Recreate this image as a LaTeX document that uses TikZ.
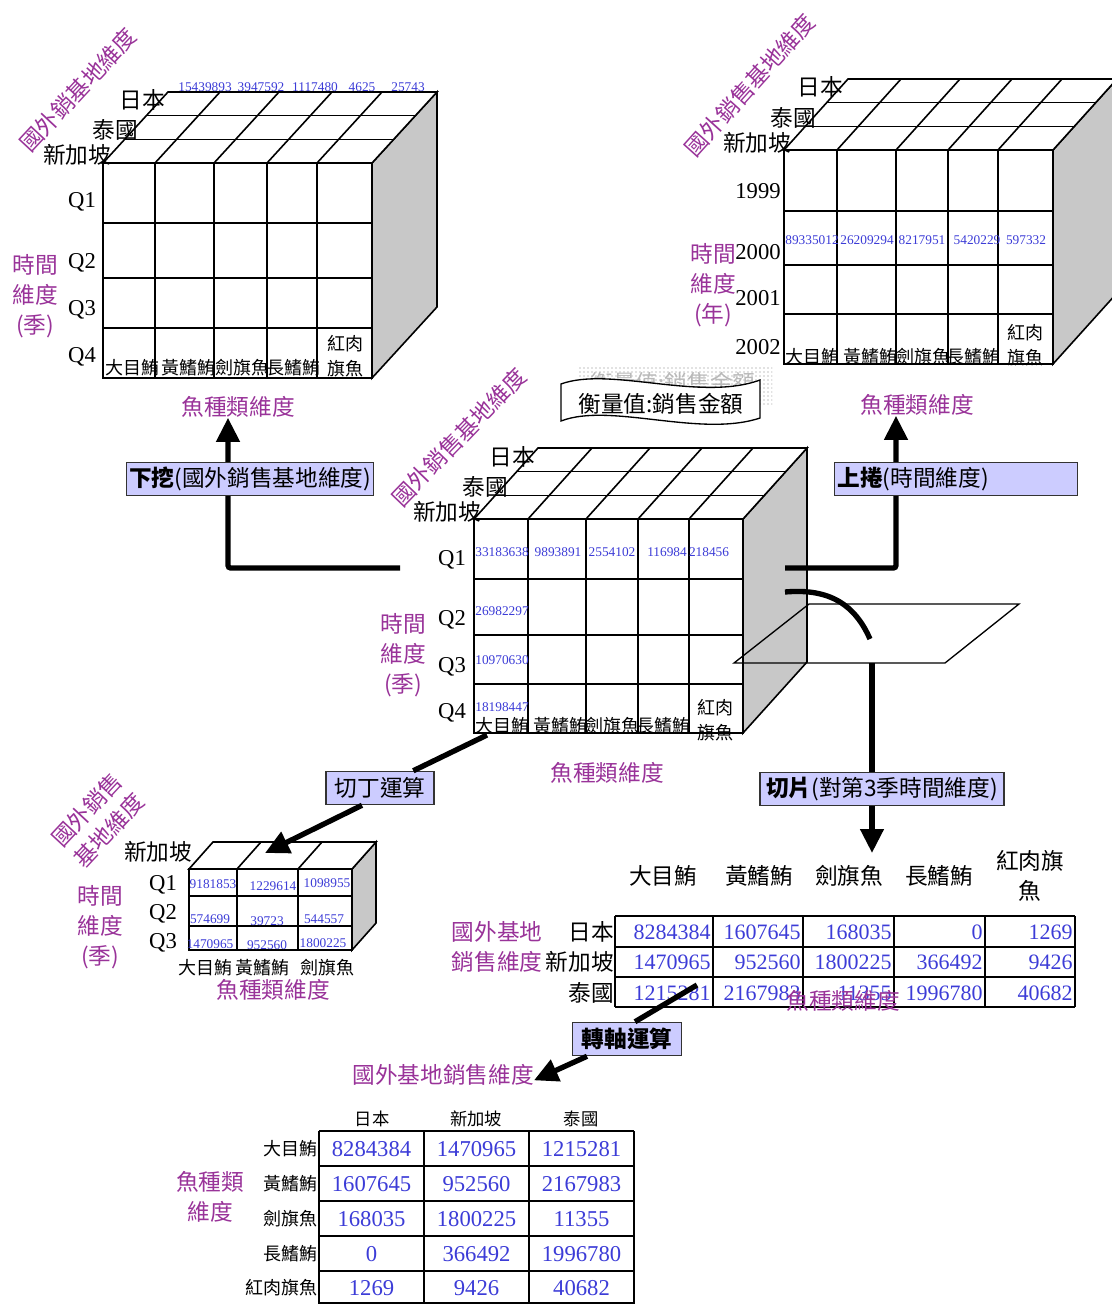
\documentclass[tikz,border=0pt]{standalone}
\usepackage{fontspec}
\setmainfont{Liberation Serif}
\newfontfamily\cjk{Noto Sans CJK TC}
\usepackage{tikz}
\usetikzlibrary{arrows.meta,patterns}

\definecolor{dimpurple}{RGB}{153,51,153}
\definecolor{numblue}{RGB}{60,60,215}
\definecolor{opfill}{RGB}{204,204,255}
\definecolor{sidegray}{RGB}{200,200,200}

% cube: front top left, front bottom right, depth, column lines, row lines, depth lines
\newcommand{\fishcube}[9]{%
  \filldraw[cubeline, fill=sidegray] (#3,#2) -- ++(#5,#6) -- ++(0,#4-#2) -- (#3,#4) -- cycle;
  \filldraw[cubeline, fill=white] (#1,#2) -- ++(#5,#6) -- ++(#3-#1,0) -- (#3,#2) -- cycle;
  \foreach \s in {#9}
    \draw[cubeline] ({#1+\s*(#5)},{#2+\s*(#6)}) -- ++(#3-#1,0);
  \foreach \x in {#7}
    \draw[cubeline] (\x,#2) -- ++(#5,#6);
  \filldraw[cubeline, fill=white] (#1,#2) rectangle (#3,#4);
  \foreach \x in {#7}
    \draw[cubeline] (\x,#2) -- (\x,#4);
  \foreach \y in {#8}
    \draw[cubeline] (#1,\y) -- (#3,\y);
}

\tikzset{
  cubeline/.style={line width=1.2pt},
  dimlabel/.style={text=dimpurple, font=\cjk\fontsize{17}{22.5}\selectfont, align=center, inner sep=0pt},
  member/.style={font=\cjk\fontsize{17}{22.5}\selectfont, align=center, inner sep=0pt},
  fishname/.style={font=\cjk\fontsize{13.5}{18.5}\selectfont, align=center, inner sep=0pt},
  pvhead/.style={font=\cjk\fontsize{13}{16}\selectfont, inner sep=0pt},
  qlabel/.style={font=\fontsize{17}{20}\selectfont, inner sep=0pt},
  cellnum/.style={text=numblue, font=\fontsize{10}{12}\selectfont, inner sep=0pt},
  slnum/.style={text=numblue, font=\fontsize{16.5}{18}\selectfont, inner sep=0pt},
  pvnum/.style={text=numblue, font=\fontsize{17}{20}\selectfont, inner sep=0pt},
  opbox/.style={draw=black!80, fill=opfill, line width=0.9pt, font=\cjk\fontsize{17}{20}\selectfont,
    inner sep=2pt, minimum height=25pt},
  opline/.style={line width=4pt},
  oparrow/.style={line width=4pt, -{Triangle[length=18pt,width=17pt]}},
  tabline/.style={line width=1.8pt},
}

\begin{document}
\begin{tikzpicture}[x=0.75pt, y=-0.75pt]
  \useasboundingbox (0,0) rectangle (1112,1304);
  \clip (0,0) rectangle (1112,1304);

  % Drill-down result (top left)
  \fishcube{103}{163}{372}{378}{65}{-71}{155,214,267,317}{223,278,328}{1/3,2/3}
  \node[dimlabel, rotate=47] (tl-base) at (78,90) {國外銷基地維度};
  \node[member] (tl-jp) at (142,100) {日本};
  \node[member] (tl-th) at (115,130) {泰國};
  \node[member] (tl-sg) at (77,155) {新加坡};
  \foreach \q/\y [count=\i] in {Q1/202,Q2/263,Q3/310,Q4/357}
    \node[qlabel] (tl-q\i) at (82,\y) {\q};
  \node[dimlabel] (tl-time) at (35,296) {時間\\維度\\(季)};
  \foreach \v/\x [count=\i] in {15439893/205,3947592/261,1117480/315,4625/362,25743/408}
    \node[cellnum] (tl-n\i) at (\x,87) {\v};
  \foreach \t/\x [count=\i] in {大目鮪/132,黃鰭鮪/188,劍旗魚/242,長鰭鮪/293}
    \node[fishname] (tl-f\i) at (\x,368) {\t};
  \node[fishname] (tl-f5) at (345,356) {紅肉\\旗魚};
  \node[dimlabel] (tl-fishdim) at (238,407) {魚種類維度};

  % Roll-up result (top right)
  \fishcube{784}{150}{1053}{364}{64}{-71}{837,896,948,998}{211,265,314}{1/3,2/3}
  \node[dimlabel, rotate=48] (tr-base) at (750,85) {國外銷售基地維度};
  \node[member] (tr-jp) at (820,87) {日本};
  \node[member] (tr-th) at (793,118) {泰國};
  \node[member] (tr-sg) at (757,143) {新加坡};
  \foreach \q/\y [count=\i] in {1999/191,2000/252,2001/298,2002/347}
    \node[qlabel] (tr-y\i) at (758,\y) {\q};
  \node[dimlabel] (tr-time) at (713,285) {時間\\維度\\(年)};
  \foreach \v/\x [count=\i] in {89335012/812,26209294/867,8217951/922,5420229/977,597332/1026}
    \node[cellnum] (tr-n\i) at (\x,240) {\v};
  \foreach \t/\x [count=\i] in {大目鮪/812,黃鰭鮪/870,劍旗魚/923,長鰭鮪/973}
    \node[fishname] (tr-f\i) at (\x,357) {\t};
  \node[fishname] (tr-f5) at (1025,345) {紅肉\\旗魚};
  \node[dimlabel] (tr-fishdim) at (917,405) {魚種類維度};

  % Measure banner
  \fill[pattern=dots, pattern color=gray] (577,366) rectangle (772,404);
  \node[member, text=gray!55] (measure-ghost) at (673,383) {衡量值:銷售金額};
  \draw[fill=white, line width=1pt] (561,384) .. controls (610,366) and (700,402) .. (760,380)
    -- (760,418) .. controls (700,438) and (610,402) .. (561,421) -- cycle;
  \node[member] (measure) at (661,404) {衡量值:銷售金額};

  % Source cube (centre)
  \fishcube{474}{519}{743}{733}{64}{-71}{528,586,638,689}{579,635,684}{1/3,2/3}
  \node[dimlabel, rotate=46] (c-base) at (459,437) {國外銷售基地維度};
  \node[member] (c-jp) at (512,457) {日本};
  \node[member] (c-th) at (485,487) {泰國};
  \node[member] (c-sg) at (447,512) {新加坡};
  \foreach \q/\y [count=\i] in {Q1/560,Q2/620,Q3/667,Q4/713}
    \node[qlabel] (c-q\i) at (452,\y) {\q};
  \node[dimlabel] (c-time) at (403,655) {時間\\維度\\(季)};
  \foreach \v/\x [count=\i] in {33183638/502,9893891/558,2554102/612,116984/667,218456/709}
    \node[cellnum] (c-n\i) at (\x,552) {\v};
  \foreach \v/\y [count=\i] in {26982297/611,10970630/660,18198447/707}
    \node[cellnum] (c-m\i) at (502,\y) {\v};
  \foreach \t/\x [count=\i] in {大目鮪/502,黃鰭鮪/560,劍旗魚/612,長鰭鮪/663}
    \node[fishname] (c-f\i) at (\x,726) {\t};
  \node[fishname] (c-f5) at (715,720) {紅肉\\旗魚};
  \node[dimlabel] (c-fishdim) at (607,773) {魚種類維度};

  % Slice plane
  \draw[line width=1pt] (734,663) -- (809,604) -- (1019,604) -- (945,663) -- cycle;

  % Drill-down
  \coordinate (drill-from) at (400,568);
  \draw[oparrow, rounded corners=2pt] (drill-from) -| ([xshift=-7.5pt]tl-fishdim.south);
  \node[opbox, minimum width=184pt] (drill) at (250,479) {\textbf{下挖}(國外銷售基地維度)};

  % Roll-up
  \coordinate (roll-from) at (785,568);
  \draw[oparrow, rounded corners=2pt] (roll-from) -| ([xshift=-15.75pt]tr-fishdim.south);
  \node[opbox, text width=178pt, align=left] (roll) at (956,479) {\textbf{上捲}(時間維度)};

  % Slice
  \coordinate (slice-from) at (785,592);
  \coordinate (slice-hit) at (870,639);
  \coordinate (slice-out) at (872,663);
  \coordinate (slice-to) at (872,853);
  \draw[opline] (slice-from) .. controls (830,588) and (855,605) .. (slice-hit);
  \draw[oparrow] (slice-out) -- (slice-to);
  \node[opbox, minimum width=183pt] (slice) at (882,789) {\textbf{切片}(對第3季時間維度)};

  % Dice result (bottom left)
  \fishcube{189}{869}{352}{950}{24}{-27}{237,298}{896,926}{0}
  \node[dimlabel, rotate=47] (d-base) at (98,820) {國外銷售\\基地維度};
  \node[member] (d-sg) at (158,852) {新加坡};
  \foreach \q/\y [count=\i] in {Q1/885,Q2/914,Q3/943}
    \node[qlabel] (d-q\i) at (163,\y) {\q};
  \node[dimlabel] (d-time) at (100,927) {時間\\維度\\(季)};
  \foreach \v/\x/\y [count=\i] in {9181853/213/884,1229614/273/886,1098955/327/883,
      574699/210/919,39723/267/921,544557/324/919,
      1470965/210/944,952560/267/945,1800225/323/943}
    \node[cellnum] (d-n\i) at (\x,\y) {\v};
  \foreach \t/\x [count=\i] in {大目鮪/205,黃鰭鮪/262,劍旗魚/327}
    \node[fishname] (d-f\i) at (\x,968) {\t};
  \node[dimlabel] (d-fishdim) at (273,990) {魚種類維度};

  % Dice
  \node[opbox, minimum width=81pt] (dice) at (380,788) {切丁運算};
  \coordinate (dice-from) at (487,735);
  \coordinate (dice-to) at (265,853);
  \draw[opline] (dice-from) -- ([xshift=25pt]dice.north);
  \draw[oparrow] ([xshift=-13.5pt]dice.south) -- (dice-to);

  % Slice result table
  \foreach \t/\x [count=\i] in {大目鮪/663,黃鰭鮪/759,劍旗魚/849,長鰭鮪/939}
    \node[member] (sl-h\i) at (\x,876) {\t};
  \node[member] (sl-h5) at (1030,876) {紅肉旗\\魚};
  \node[dimlabel] (sl-base) at (497,947) {國外基地\\銷售維度};
  \foreach \x in {615,713,803,894,985,1075}
    \draw[tabline] (\x,916) -- (\x,1007);
  \foreach \y in {916,947,977,1007}
    \draw[tabline] (615,\y) -- (1075,\y);
  \foreach \y/\r/\c/\vals in {932/1/日本/{8284384,1607645,168035,0,1269},
      962/2/新加坡/{1470965,952560,1800225,366492,9426},
      993/3/泰國/{1215281,2167983,11355,1996780,40682}} {
    \node[member, anchor=east] (sl-r\r) at (614,\y) {\c};
    \foreach \v [count=\i] in \vals {
      \pgfmathsetmacro\xr{{711,801,892,983,1073}[\i-1]}
      \node[slnum, anchor=east] (sl-\r-\i) at (\xr,\y) {\v};
    }
  }

  % Pivot result table
  \node[dimlabel] (pv-base) at (443,1075) {國外基地銷售維度};
  \node[dimlabel] (pv-fishdim) at (210,1197) {魚種類\\維度};
  \foreach \t/\x [count=\i] in {日本/372,新加坡/476,泰國/581}
    \node[pvhead] (pv-h\i) at (\x,1119) {\t};
  \foreach \x in {319,424,529,634}
    \draw[tabline] (\x,1131) -- (\x,1304);
  \foreach \y in {1131,1166,1201,1236,1271,1303}
    \draw[tabline] (319,\y) -- (634,\y);
  \foreach \y/\r/\f/\vals in {1149/1/大目鮪/{8284384,1470965,1215281},
      1184/2/黃鰭鮪/{1607645,952560,2167983},
      1219/3/劍旗魚/{168035,1800225,11355},
      1254/4/長鰭鮪/{0,366492,1996780},
      1288/5/紅肉旗魚/{1269,9426,40682}} {
    \node[fishname, anchor=east] (pv-r\r) at (318,\y) {\f};
    \foreach \v [count=\i] in \vals
      \node[pvnum] (pv-\r-\i) at ({371.5+105*(\i-1)},\y) {\v};
  }

  % Pivot
  \node[opbox, minimum width=82pt] (pivot) at (627,1039) {\textbf{轉軸運算}};
  \coordinate (pivot-from) at (697,985);
  \draw[opline] (pivot-from) -- ([xshift=6pt]pivot.north);
  \draw[oparrow] ([xshift=-30pt]pivot.south) -- ([yshift=-4pt]pv-base.east);
  \node[dimlabel] (sl-fishdim) at (843,1001) {魚種類維度};
\end{tikzpicture}
\end{document}
